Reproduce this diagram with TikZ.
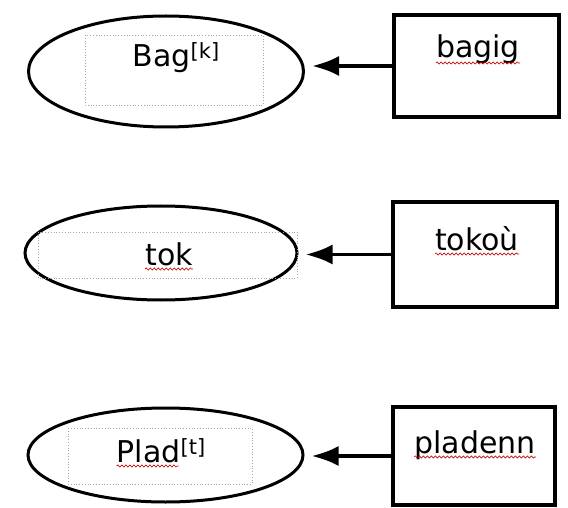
\documentclass[tikz,border=0pt]{standalone}
\usepackage{fontspec}
\setmainfont{DejaVu Sans}
\usetikzlibrary{arrows.meta, shapes.geometric, calc, decorations.pathmorphing}
\newcommand{\brk}[1]{\raisebox{8pt}{\fontsize{21}{21}\selectfont[#1]}}
\tikzset{
  every node/.style={font=\fontsize{30}{36}\selectfont},
  oval/.style  = {ellipse, draw=black, line width=3pt, inner sep=0pt},
  wbox/.style  = {rectangle, draw=black, line width=3.5pt, inner sep=0pt},
  frame/.style = {draw=gray!70, dotted, line width=0.8pt},
  word/.style  = {inner sep=0pt, anchor=base},
  arrow/.style = {-{Latex[length=27pt,width=20pt]}, line width=3.8pt, shorten >=7pt},
  typo/.style  = {draw=red!75!black, line width=0.6pt, decorate,
                  decoration={snake, amplitude=1.1pt, segment length=4pt}},
}

\begin{document}
\begin{tikzpicture}[x=1pt, y=-1pt]
  \useasboundingbox (0,0) rectangle (568,508);

  % shapes
  \node[oval, minimum width=275, minimum height=111] (bag)  at (166,71.5) {};
  \node[oval, minimum width=272, minimum height=94]  (tok)  at (161,253)  {};
  \node[oval, minimum width=275, minimum height=94]  (plad) at (165.5,455) {};

  \node[wbox, minimum width=165, minimum height=102] (bagig)   at (476.5,66)  {};
  \node[wbox, minimum width=164, minimum height=105] (tokou)   at (475,254.5) {};
  \node[wbox, minimum width=162, minimum height=98]  (pladenn) at (474,456)   {};

  \draw[frame] (85,35)  rectangle (263,105);
  \draw[frame] (38,232) rectangle (297,278);
  \draw[frame] (68,428) rectangle (252,484);

  % texts
  \node[word] (t-bag)     at (176,67)  {Bag\brk{k}};
  \node[word] (t-tok)     at (169,265) {tok};
  \node[word] (t-plad)    at (161,462) {Plad\brk{t}};
  \node[word] (t-bagig)   at (478,58)  {bagig};
  \node[word] (t-tokou)   at (477,250) {tokoù};
  \node[word] (t-pladenn) at (475,453) {pladenn};

  \draw[typo] ($(t-tok.base west)+(0,4)$)     -- ($(t-tok.base east)+(0,4)$);
  \draw[typo] ($(t-plad.base west)+(0,4)$)    -- ++(62,0);
  \draw[typo] ($(t-bagig.base west)+(0,5)$)   -- ($(t-bagig.base east)+(0,5)$);
  \draw[typo] ($(t-tokou.base west)+(0,4)$)   -- ($(t-tokou.base east)+(0,4)$);
  \draw[typo] ($(t-pladenn.base west)+(0,4)$) -- ($(t-pladenn.base east)+(0,4)$);

  % arrows
  \draw[arrow] (bagig.west)   -- (bagig.west -| bag.east);
  \draw[arrow] (tokou.west)   -- (tokou.west -| tok.east);
  \draw[arrow] (pladenn.west) -- (pladenn.west -| plad.east);
\end{tikzpicture}
\end{document}
